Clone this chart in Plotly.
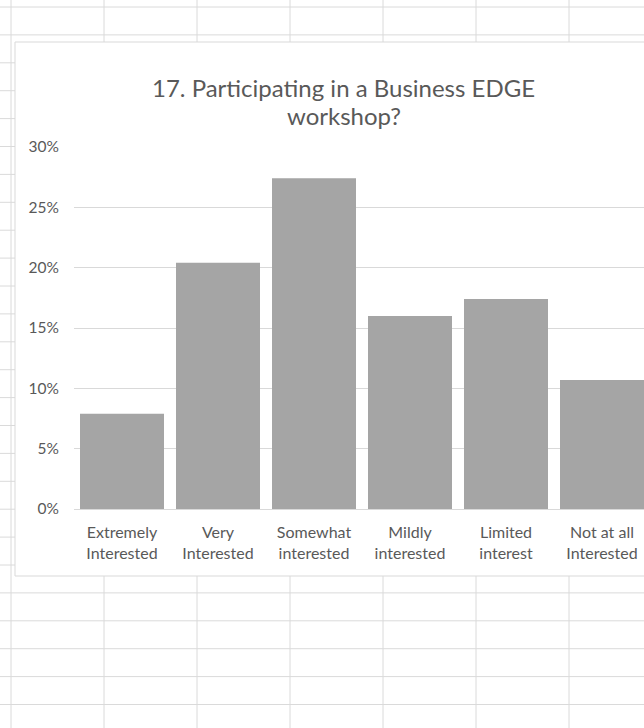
import plotly.graph_objects as go

categories = ["Extremely<br>Interested", "Very<br>Interested", "Somewhat<br>interested",
              "Mildly<br>interested", "Limited<br>interest", "Not at all<br>Interested"]
values = [0.079, 0.204, 0.274, 0.160, 0.174, 0.107]
y_ticks = [0, 0.05, 0.10, 0.15, 0.20, 0.25, 0.30]
title_lines = ["17. Participating in a Business EDGE", "workshop?"]

W, H = 644, 728
L, R, T, B = 74, 0, 147, 219
PW, PH = W - L - R, H - T - B
FONT = "Lato"
TXT = "#595959"
GRID = "#d9d9d9"
SHEET = "#dadada"


def px(x):
    return (x - L) / PW


def py(y):
    return (H - B - y) / PH


shapes = []
# spreadsheet column lines
for cx in [11, 104, 197, 290, 383, 476, 569]:
    shapes.append(dict(type="line", xref="paper", yref="paper", x0=px(cx), x1=px(cx),
                       y0=py(0), y1=py(H), line=dict(color=SHEET, width=1), layer="below"))
# spreadsheet row lines
for k in range(27):
    ry = 7 + 27.9 * k
    shapes.append(dict(type="line", xref="paper", yref="paper", x0=px(0), x1=px(W + 40),
                       y0=py(ry), y1=py(ry), line=dict(color=SHEET, width=1), layer="below"))
# chart area box
shapes.append(dict(type="rect", xref="paper", yref="paper", x0=px(15), x1=px(W + 40),
                   y0=py(576), y1=py(42), fillcolor="white",
                   line=dict(color=GRID, width=1), layer="below"))

annotations = []
for line_text, cy in zip(title_lines, [88, 115]):
    annotations.append(dict(text=line_text, xref="paper", yref="paper", x=px(343.5), y=py(cy),
                            xanchor="center", yanchor="middle", showarrow=False,
                            font=dict(family=FONT, size=24, color=TXT)))

fig = go.Figure(go.Bar(x=categories, y=values, marker=dict(color="#a5a5a5", line=dict(width=0))))

fig.update_layout(
    width=W, height=H,
    margin=dict(l=L, r=R, t=T, b=B, pad=0),
    paper_bgcolor="white", plot_bgcolor="rgba(0,0,0,0)",
    bargap=0.125,
    showlegend=False,
    shapes=shapes,
    annotations=annotations,
    font=dict(family=FONT, color=TXT),
)
fig.update_xaxes(range=[-0.5, -0.5 + PW / 96], showline=True, linecolor=GRID, linewidth=1,
                 showgrid=False, ticks="", ticklabelstandoff=9,
                 tickfont=dict(family=FONT, size=16, color=TXT), fixedrange=True)
fig.update_yaxes(range=[0, 0.30], tickvals=y_ticks, tickformat=".0%", showgrid=True,
                 gridcolor=GRID, gridwidth=1, zeroline=False, showline=False, ticks="",
                 ticklabelstandoff=14, tickfont=dict(family=FONT, size=15.5, color=TXT),
                 fixedrange=True)

fig.write_html("out.html")
